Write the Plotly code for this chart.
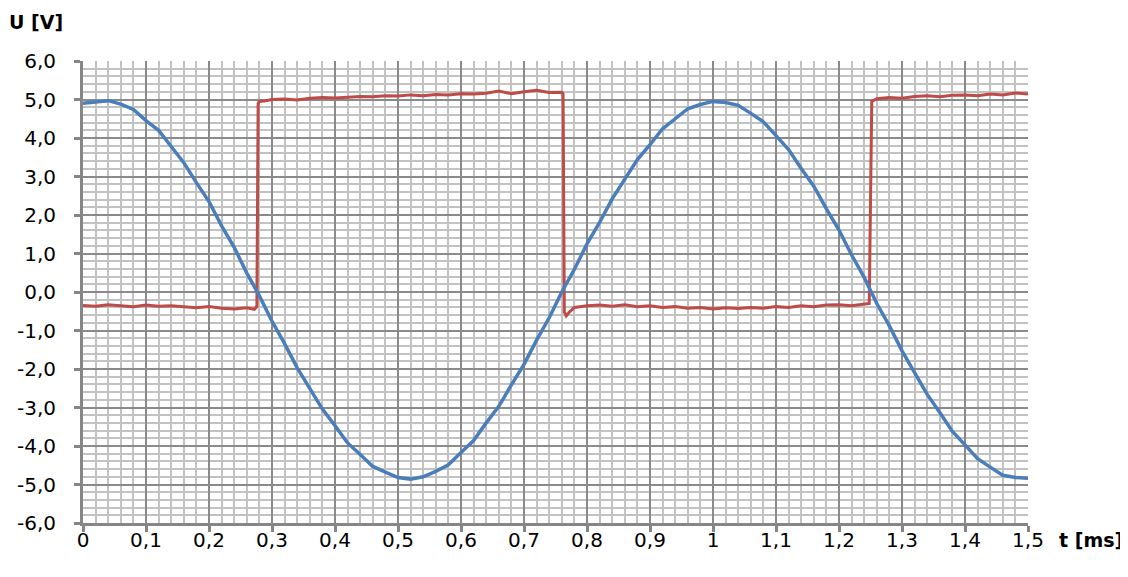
import plotly.graph_objects as go

# ---- data ----
t_blue = [0.00, 0.02, 0.04, 0.06, 0.08, 0.10, 0.12, 0.14, 0.16, 0.18,
          0.20, 0.22, 0.24, 0.26, 0.28, 0.30, 0.32, 0.34, 0.36, 0.38,
          0.40, 0.42, 0.44, 0.46, 0.48, 0.50, 0.52, 0.54, 0.56, 0.58,
          0.60, 0.62, 0.64, 0.66, 0.68, 0.70, 0.72, 0.74, 0.76, 0.78,
          0.80, 0.82, 0.84, 0.86, 0.88, 0.90, 0.92, 0.94, 0.96, 0.98,
          1.00, 1.02, 1.04, 1.06, 1.08, 1.10, 1.12, 1.14, 1.16, 1.18,
          1.20, 1.22, 1.24, 1.26, 1.28, 1.30, 1.32, 1.34, 1.36, 1.38,
          1.40, 1.42, 1.44, 1.46, 1.48, 1.50]
u_blue = [4.90, 4.93, 4.97, 4.88, 4.74, 4.45, 4.20, 3.78, 3.36, 2.84,
          2.35, 1.72, 1.16, 0.49, -0.10, -0.76, -1.34, -1.97, -2.49, -3.04,
          -3.47, -3.92, -4.22, -4.53, -4.68, -4.82, -4.86, -4.80, -4.66, -4.49,
          -4.17, -3.86, -3.40, -2.97, -2.41, -1.88, -1.25, -0.67, 0.00, 0.59,
          1.25, 1.81, 2.42, 2.92, 3.44, 3.83, 4.24, 4.50, 4.76, 4.87,
          4.95, 4.92, 4.85, 4.64, 4.42, 4.06, 3.70, 3.21, 2.75, 2.16,
          1.61, 0.96, 0.38, -0.30, -0.88, -1.53, -2.08, -2.66, -3.13, -3.62,
          -3.97, -4.33, -4.55, -4.76, -4.82, -4.84]

t_red = [0.00, 0.02, 0.04, 0.06, 0.08, 0.10, 0.12, 0.14, 0.16, 0.18,
         0.20, 0.22, 0.24, 0.26, 0.272, 0.276, 0.278, 0.28, 0.29, 0.30,
         0.32, 0.34, 0.36, 0.38, 0.40, 0.42, 0.44, 0.46, 0.48, 0.50,
         0.52, 0.54, 0.56, 0.58, 0.60, 0.62, 0.64, 0.66, 0.68, 0.70,
         0.72, 0.74, 0.76, 0.762, 0.764, 0.767, 0.772, 0.78, 0.80, 0.82,
         0.84, 0.86, 0.88, 0.90, 0.92, 0.94, 0.96, 0.98, 1.00, 1.02,
         1.04, 1.06, 1.08, 1.10, 1.12, 1.14, 1.16, 1.18, 1.20, 1.22,
         1.24, 1.248, 1.252, 1.26, 1.28, 1.30, 1.32, 1.34, 1.36, 1.38,
         1.40, 1.42, 1.44, 1.46, 1.48, 1.50]
u_red = [-0.35, -0.37, -0.33, -0.36, -0.38, -0.34, -0.37, -0.36, -0.39, -0.41,
         -0.38, -0.42, -0.44, -0.41, -0.45, -0.38, 4.90, 4.95, 4.97, 5.00,
         5.01, 4.99, 5.03, 5.05, 5.04, 5.06, 5.08, 5.07, 5.10, 5.09,
         5.12, 5.10, 5.13, 5.12, 5.15, 5.14, 5.16, 5.22, 5.15, 5.20,
         5.24, 5.18, 5.19, 5.15, -0.52, -0.62, -0.52, -0.40, -0.36, -0.34,
         -0.37, -0.33, -0.38, -0.36, -0.40, -0.38, -0.42, -0.40, -0.44, -0.41,
         -0.43, -0.40, -0.42, -0.38, -0.40, -0.36, -0.38, -0.34, -0.33, -0.36,
         -0.33, -0.30, 4.95, 5.02, 5.05, 5.03, 5.08, 5.10, 5.07, 5.11,
         5.12, 5.10, 5.14, 5.12, 5.17, 5.14]

x_tickvals = [0.0, 0.1, 0.2, 0.3, 0.4, 0.5, 0.6, 0.7, 0.8, 0.9, 1.0, 1.1, 1.2, 1.3, 1.4, 1.5]
x_ticktext = ["0", "0,1", "0,2", "0,3", "0,4", "0,5", "0,6", "0,7", "0,8", "0,9",
              "1", "1,1", "1,2", "1,3", "1,4", "1,5"]
y_tickvals = [6, 5, 4, 3, 2, 1, 0, -1, -2, -3, -4, -5, -6]
y_ticktext = ["6,0", "5,0", "4,0", "3,0", "2,0", "1,0", "0,0", "-1,0", "-2,0",
              "-3,0", "-4,0", "-5,0", "-6,0"]

x_title = "t [ms]"
y_title = "U [V]"

# page body has an 8px default margin, so the figure is drawn 8px smaller
PAGE_OFF = 8
FIG_W, FIG_H = 1128 - PAGE_OFF, 577 - PAGE_OFF
M_L, M_T, M_R, M_B = 83 - PAGE_OFF, 61 - PAGE_OFF, 100, 54
PLOT_W = FIG_W - M_L - M_R
PLOT_H = FIG_H - M_T - M_B


def px_to_paper_x(px):
    return (px - (M_L + PAGE_OFF)) / PLOT_W


def px_to_paper_y(py):
    return ((M_T + PAGE_OFF + PLOT_H) - py) / PLOT_H


# ---- figure ----
fig = go.Figure()
fig.add_trace(go.Scatter(x=t_red, y=u_red, mode="lines",
                         line=dict(color="#be4b48", width=3)))
fig.add_trace(go.Scatter(x=t_blue, y=u_blue, mode="lines",
                         line=dict(color="#4a7ebb", width=3.5)))

axis_common = dict(
    showgrid=True, gridcolor="#8a8a8a", gridwidth=1.5,
    showline=True, linecolor="#868686", linewidth=3,
    ticks="outside", ticklen=6, tickwidth=3, tickcolor="#868686",
    zeroline=False, tickmode="array",
    tickfont=dict(family="DejaVu Sans", size=20, color="#000000"),
)

fig.update_xaxes(range=[0, 1.5], tickvals=x_tickvals, ticktext=x_ticktext,
                 minor=dict(tickmode="linear", tick0=0, dtick=0.02, showgrid=True,
                            gridcolor="#c2c2c2", gridwidth=1.5, ticks=""),
                 ticklabelstandoff=-9, **axis_common)
fig.update_yaxes(range=[-6, 6], tickvals=y_tickvals, ticktext=y_ticktext,
                 minor=dict(tickmode="linear", tick0=0, dtick=0.2, showgrid=True,
                            gridcolor="#c2c2c2", gridwidth=1.5, ticks=""),
                 ticklabelstandoff=14, **axis_common)

fig.update_layout(
    width=FIG_W, height=FIG_H,
    margin=dict(l=M_L, r=M_R, t=M_T, b=M_B, autoexpand=False),
    paper_bgcolor="white", plot_bgcolor="white",
    showlegend=False,
    font=dict(family="DejaVu Sans", size=20, color="#000000"),
    annotations=[
        dict(text="<b>" + y_title + "</b>", xref="paper", yref="paper",
             x=px_to_paper_x(36), y=px_to_paper_y(22), xanchor="center", yanchor="middle",
             showarrow=False, font=dict(family="DejaVu Sans", size=19, color="#000000")),
        dict(text="<b>" + x_title + "</b>", xref="paper", yref="paper",
             x=px_to_paper_x(1091), y=px_to_paper_y(540), xanchor="center", yanchor="middle",
             showarrow=False, font=dict(family="DejaVu Sans", size=19, color="#000000")),
    ],
)

fig.write_html("out.html")
